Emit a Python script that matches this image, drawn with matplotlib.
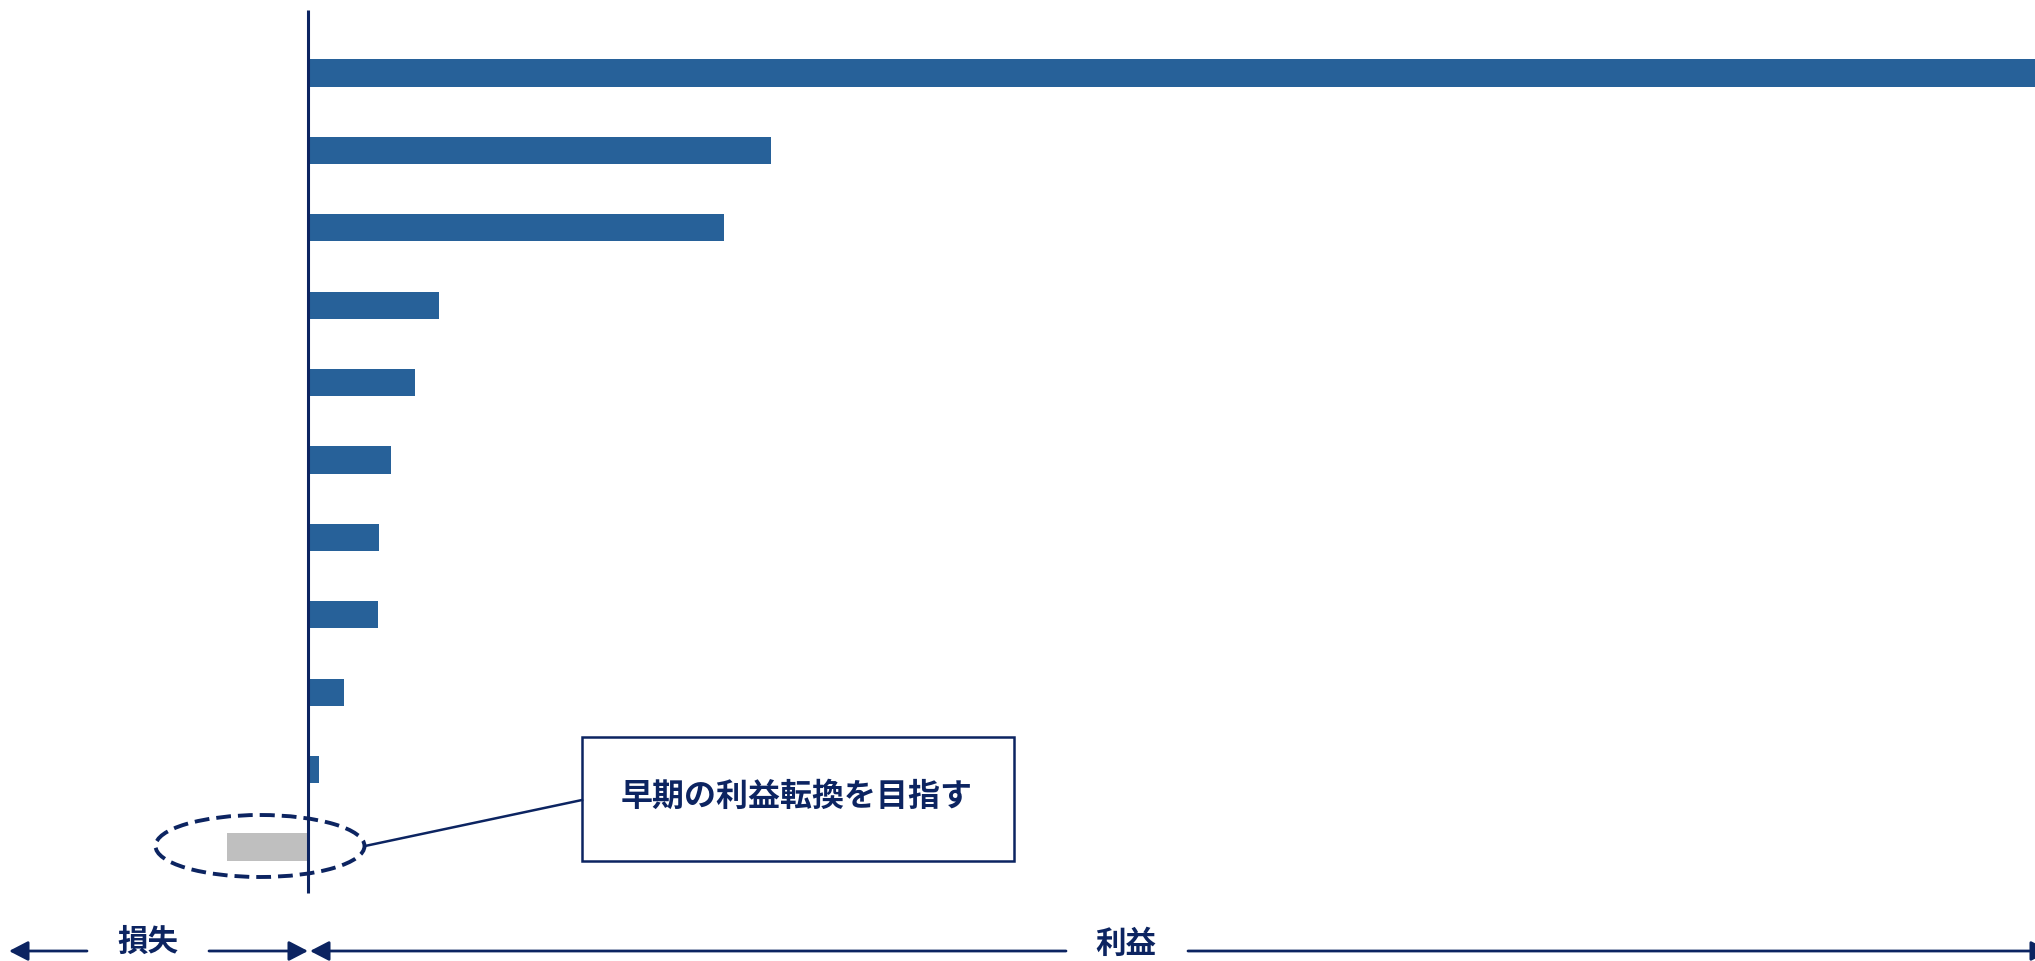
import matplotlib
matplotlib.use("Agg")
import matplotlib.pyplot as plt
from matplotlib.patches import Ellipse, Rectangle

plt.rcParams['font.family'] = ['Noto Sans CJK JP', 'DejaVu Sans']

# ---- data (relative profit values, last item is a loss) ----
categories = ["A", "B", "C", "D", "E", "F", "G", "H", "I", "J", "K"]
values = [105.0, 26.8, 24.1, 7.6, 6.2, 4.8, 4.1, 4.05, 2.1, 0.65, -4.7]
bar_colors = ["#276199"] * 10 + ["#bfbfbf"]

callout_text = "早期の利益転換を目指す"
loss_label = "損失"
profit_label = "利益"

NAVY = "#0c2461"
W, H = 2035, 961
fig = plt.figure(figsize=(W / 100, H / 100), dpi=100)

# ---- bar axes (full figure) ----
ax = fig.add_axes([0, 0, 1, 1])
px_per_unit = 17.27
zero_px = 308
ax.set_xlim(-zero_px / px_per_unit, (W - zero_px) / px_per_unit)
row0, row_step = 73, 77.4
ax.set_ylim((H - row0) / row_step, (0 - row0) / row_step)
ypos = list(range(len(categories)))
ax.barh(ypos, values, height=0.35, color=bar_colors, edgecolor="none", zorder=2)
ax.axis("off")

# ---- overlay axes in pixel coordinates for annotations ----
ov = fig.add_axes([0, 0, 1, 1], facecolor="none")
ov.set_xlim(0, W)
ov.set_ylim(H, 0)
ov.axis("off")

# zero axis line
ov.plot([308, 308], [10, 893], color=NAVY, lw=2.2, solid_capstyle="butt", zorder=5)

# dashed ellipse around loss bar
ov.add_patch(Ellipse((260, 846), 209, 62, fill=False, edgecolor=NAVY, lw=2.8,
                     linestyle=(0, (3.8, 1.8)), zorder=6))
# callout line
ov.plot([365, 582], [846, 800], color=NAVY, lw=1.8, zorder=6)
# callout box
ov.add_patch(Rectangle((582, 737), 432, 124, fill=False, edgecolor=NAVY, lw=1.8, zorder=6))
ov.text(797, 797, callout_text, ha="center", va="center", fontsize=23,
        fontweight="bold", color=NAVY, zorder=7)

# bottom arrows
ay = 951
ap = dict(arrowstyle="-|>,head_length=0.58,head_width=0.3", color=NAVY, lw=2.0,
          shrinkA=0, shrinkB=0, mutation_scale=20)
ov.annotate("", xy=(9, ay), xytext=(87, ay), arrowprops=ap)
ov.annotate("", xy=(308, ay), xytext=(209, ay), arrowprops=ap)
ov.annotate("", xy=(310, ay), xytext=(1066, ay), arrowprops=ap)
ov.annotate("", xy=(2050, ay), xytext=(1188, ay), arrowprops=ap, annotation_clip=False)

ov.text(148, 942, loss_label, ha="center", va="center", fontsize=22,
        fontweight="bold", color=NAVY)
ov.text(1126, 944, profit_label, ha="center", va="center", fontsize=22,
        fontweight="bold", color=NAVY)

fig.savefig("out.png", dpi=100)
